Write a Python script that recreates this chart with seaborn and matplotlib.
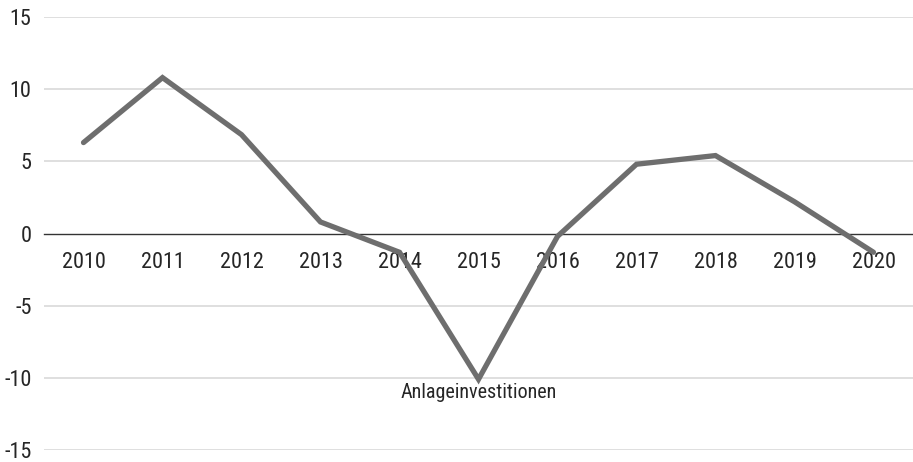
import matplotlib
matplotlib.use("Agg")
import matplotlib.pyplot as plt
from matplotlib import font_manager
import seaborn as sns
import pandas as pd

years = ["2010", "2011", "2012", "2013", "2014", "2015",
         "2016", "2017", "2018", "2019", "2020"]
anlageinvestitionen = [6.3, 10.8, 6.85, 0.8, -1.3, -10.1,
                       -0.2, 4.8, 5.4, 2.2, -1.3]
series_name = "Anlageinvestitionen"
y_ticks = [-15, -10, -5, 0, 5, 10, 15]

sns.set_theme(style="white")
available = {f.name for f in font_manager.fontManager.ttflist}
family = [f for f in ["Liberation Sans Narrow", "Roboto Condensed", "Liberation Sans"] if f in available]
plt.rcParams["font.family"] = family + ["DejaVu Sans"]

df = pd.DataFrame({"pos": range(len(years)), "value": anlageinvestitionen})

fig = plt.figure(figsize=(9.13, 4.62), dpi=100)
ax = fig.add_axes([44 / 913, 1 - 450 / 462, 1 - 44 / 913, (450 - 17) / 462])

for v in y_ticks:
    if v != 0:
        ax.axhline(v, color="#d9d9d9", lw=1.2, zorder=0)

sns.lineplot(data=df, x="pos", y="value", ax=ax, color="#6e6e6e",
             linewidth=3.8, solid_capstyle="round", solid_joinstyle="miter",
             legend=False, zorder=3)

ax.set_xlim(-0.5, len(years) - 0.5)
ax.set_ylim(-15, 15)
ax.set_yticks(y_ticks)
ax.set_yticklabels([str(v) for v in y_ticks])
ax.set_xticks(range(len(years)))
ax.set_xticklabels(years)
ax.set_xlabel("")
ax.set_ylabel("")

for s in ["top", "right", "left"]:
    ax.spines[s].set_visible(False)
ax.spines["bottom"].set_position(("data", 0))
ax.spines["bottom"].set_color("#333333")
ax.spines["bottom"].set_linewidth(1.0)
ax.spines["bottom"].set_zorder(2)

ax.tick_params(axis="x", length=0, pad=13, labelsize=16, labelcolor="#262626")
ax.tick_params(axis="y", length=0, pad=9, labelsize=16, labelcolor="#262626")

ax.text(5, -11.0, series_name, ha="center", va="center",
        fontsize=14.5, color="#262626")

fig.savefig("out.png", dpi=100)
